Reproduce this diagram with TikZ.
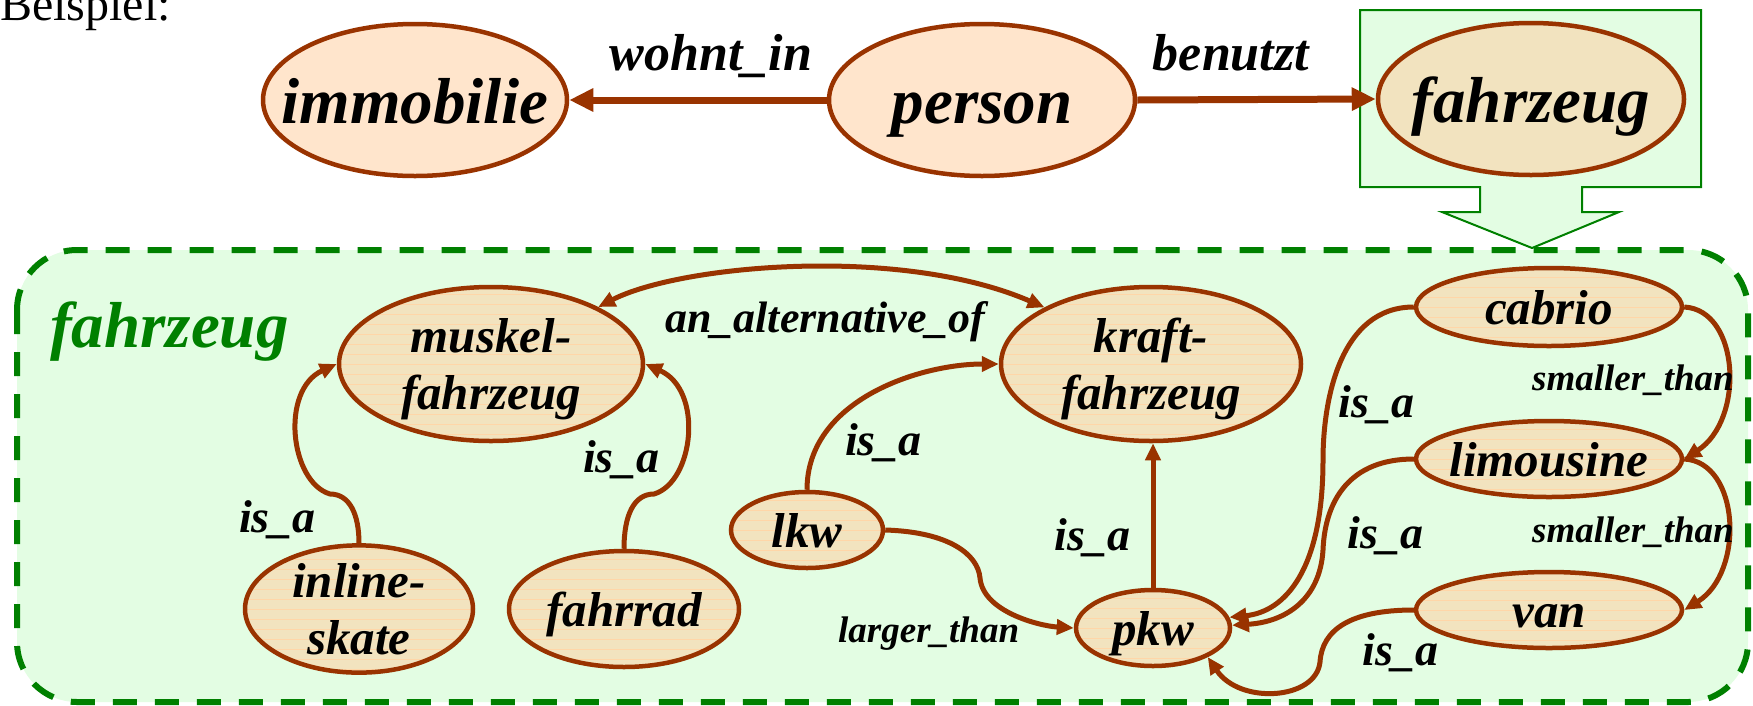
\documentclass[tikz,border=0pt]{standalone}
\usepackage{fontspec}
\setmainfont{Liberation Serif}
\usetikzlibrary{arrows.meta,shapes.geometric}
\definecolor{brn}{HTML}{993300}
\definecolor{grn}{HTML}{008000}
\definecolor{lgrn}{HTML}{E3FDE3}
\definecolor{peachfill}{HTML}{FFE5CC}
\definecolor{tanfill}{HTML}{F2E3BF}
\definecolor{stripecol}{HTML}{FFD6A8}
\begin{document}
\begin{tikzpicture}[x=1pt,y=-1pt,
  bigfont/.style={font=\fontsize{65}{70}\selectfont\bfseries\itshape},
  topnode/.style={ellipse, draw=brn, line width=4.5pt, fill=peachfill, inner sep=0pt,
    text height=46pt, text depth=0pt, bigfont},
  lownode/.style={ellipse, draw=brn, line width=4.5pt, fill=tanfill, inner sep=0pt,
    font=\fontsize{49}{57}\selectfont\bfseries\itshape,
    path picture={\foreach \k in {-9,...,9}{\draw[stripecol, line width=0.8pt]
      ([yshift={\k*10pt}]path picture bounding box.west) --
      ([yshift={\k*10pt}]path picture bounding box.east);}}},
  oneline/.style={text height=34pt, text depth=0pt},
  twoline/.style={align=center, text height=90pt, text depth=0pt},
  toparrow/.style={draw=brn, line width=7pt, -{Triangle[length=24pt,width=22pt]}},
  conn/.style={draw=brn, line width=5pt, -{Triangle[length=17pt,width=15pt]}},
  biconn/.style={draw=brn, line width=5pt, {Triangle[length=17pt,width=15pt]}-{Triangle[length=17pt,width=15pt]}},
  toplab/.style={anchor=base, inner sep=0pt, font=\fontsize{52}{56}\selectfont\bfseries\itshape},
  lab/.style={anchor=base west, inner sep=0pt, font=\fontsize{46}{50}\selectfont\bfseries\itshape},
  smalllab/.style={anchor=base west, inner sep=0pt, font=\fontsize{37}{40}\selectfont\bfseries\itshape}
]
\useasboundingbox (0,0) rectangle (1753,705);
\clip (0,0) rectangle (1753,705);

% title
\node[anchor=base west, inner sep=0pt, font=\fontsize{48}{50}\selectfont] (bsp) at (0,20) {Beispiel:};

% green callout box with arrow
\draw[grn, line width=2pt, fill=lgrn] (1360,10) -- (1701,10) -- (1701,187) -- (1582,187)
  -- (1582,212) -- (1619,212) -- (1532,248) -- (1442,212) -- (1480,212) -- (1480,187)
  -- (1360,187) -- cycle;

% dashed region
\draw[grn, line width=6pt, dash pattern=on 24pt off 18pt, fill=lgrn, rounded corners=60pt]
  (17,250) rectangle (1748,702);

% top row
\node[topnode, minimum width=304pt, minimum height=152pt] (immobilie) at (415,100) {\makebox[0pt]{immobilie}};
\node[topnode, minimum width=306pt, minimum height=152pt] (person) at (982,100) {\makebox[0pt]{person}};
\node[topnode, fill=tanfill, minimum width=306pt, minimum height=152pt] (fztop) at (1531,99) {\makebox[0pt]{fahrzeug}};

\draw[toparrow] (person.west) -- (immobilie.east);
\draw[toparrow] (person.east) -- (fztop.west);
\node[toplab] (lwohnt) at (711,70) {wohnt\_in};
\node[toplab] (lbenutzt) at (1231,70) {benutzt};

% region title
\node[anchor=base west, inner sep=0pt, text=grn, bigfont] (ltitle) at (50,347) {fahrzeug};

% lower nodes
\node[lownode, twoline, minimum width=304pt, minimum height=154pt] (muskel) at (491,364)
  {\makebox[0pt]{muskel-}\\\makebox[0pt]{fahrzeug}};
\node[lownode, twoline, minimum width=300pt, minimum height=154pt] (kraft) at (1151,364)
  {\makebox[0pt]{kraft-}\\\makebox[0pt]{fahrzeug}};
\node[lownode, twoline, minimum width=228pt, minimum height=116pt] (inline) at (359,609)
  {\makebox[0pt]{inline-}\\\makebox[0pt]{skate}};
\node[lownode, oneline, minimum width=230pt, minimum height=116pt] (fahrrad) at (624,609) {\makebox[0pt]{fahrrad}};
\node[lownode, oneline, minimum width=152pt, minimum height=76pt] (lkw) at (807,530) {\makebox[0pt]{lkw}};
\node[lownode, oneline, minimum width=154pt, minimum height=76pt] (pkw) at (1153,628) {\makebox[0pt]{pkw}};
\node[lownode, oneline, minimum width=266pt, minimum height=78pt] (cabrio) at (1549,307) {\makebox[0pt]{cabrio}};
\node[lownode, oneline, minimum width=266pt, minimum height=76pt] (limousine) at (1549,459) {\makebox[0pt]{limousine}};
\node[lownode, oneline, minimum width=266pt, minimum height=76pt] (van) at (1549,610) {\makebox[0pt]{van}};

% connectors
\draw[biconn] (muskel.28) .. controls (680,265) and (900,245) .. (kraft.152);
\draw[conn] (inline.north) .. controls (359,515) and (350,494) .. (330,494)
  .. controls (290,482) and (280,390) .. (muskel.west);
\draw[conn] (fahrrad.north) .. controls (624,515) and (634,494) .. (654,494)
  .. controls (694,482) and (704,390) .. (muskel.east);
\draw[conn] (lkw.north) .. controls (807,400) and (920,364) .. (kraft.west);
\draw[conn] (lkw.east) .. controls (950,532) and (978,555) .. (980,578)
  .. controls (983,612) and (1040,626) .. (pkw.west);
\draw[conn] (pkw.north) -- (pkw.north |- kraft.south);
\draw[conn] (cabrio.west) .. controls (1340,307) and (1323,400) .. (1323,460)
  .. controls (1323,570) and (1285,612) .. (pkw.8);
\draw[conn] (limousine.west) .. controls (1350,459) and (1325,500) .. (1323,550)
  .. controls (1320,600) and (1285,622) .. (pkw.2);
\draw[conn] (van.west) .. controls (1350,610) and (1322,630) .. (1320,662)
  .. controls (1316,700) and (1240,705) .. (pkw.-28);
\draw[conn] (cabrio.east) .. controls (1740,310) and (1745,420) .. (limousine.east);
\draw[conn] (limousine.east) .. controls (1740,462) and (1745,572) .. (van.east);

% connector labels
\node[lab, font=\fontsize{44}{48}\selectfont\bfseries\itshape] (lalt) at (665,332) {an\_alternative\_of};
\node[lab] (lisa1) at (239,532) {is\_a};
\node[lab] (lisa2) at (583,472) {is\_a};
\node[lab] (lisa3) at (845,455) {is\_a};
\node[lab] (lisa4) at (1054,550) {is\_a};
\node[lab] (lisa5) at (1338,417) {is\_a};
\node[lab] (lisa6) at (1347,548) {is\_a};
\node[lab] (lisa7) at (1362,665) {is\_a};
\node[smalllab] (llarger) at (838,642) {larger\_than};
\node[smalllab] (lsm1) at (1532,390) {smaller\_than};
\node[smalllab] (lsm2) at (1532,542) {smaller\_than};
\end{tikzpicture}
\end{document}
